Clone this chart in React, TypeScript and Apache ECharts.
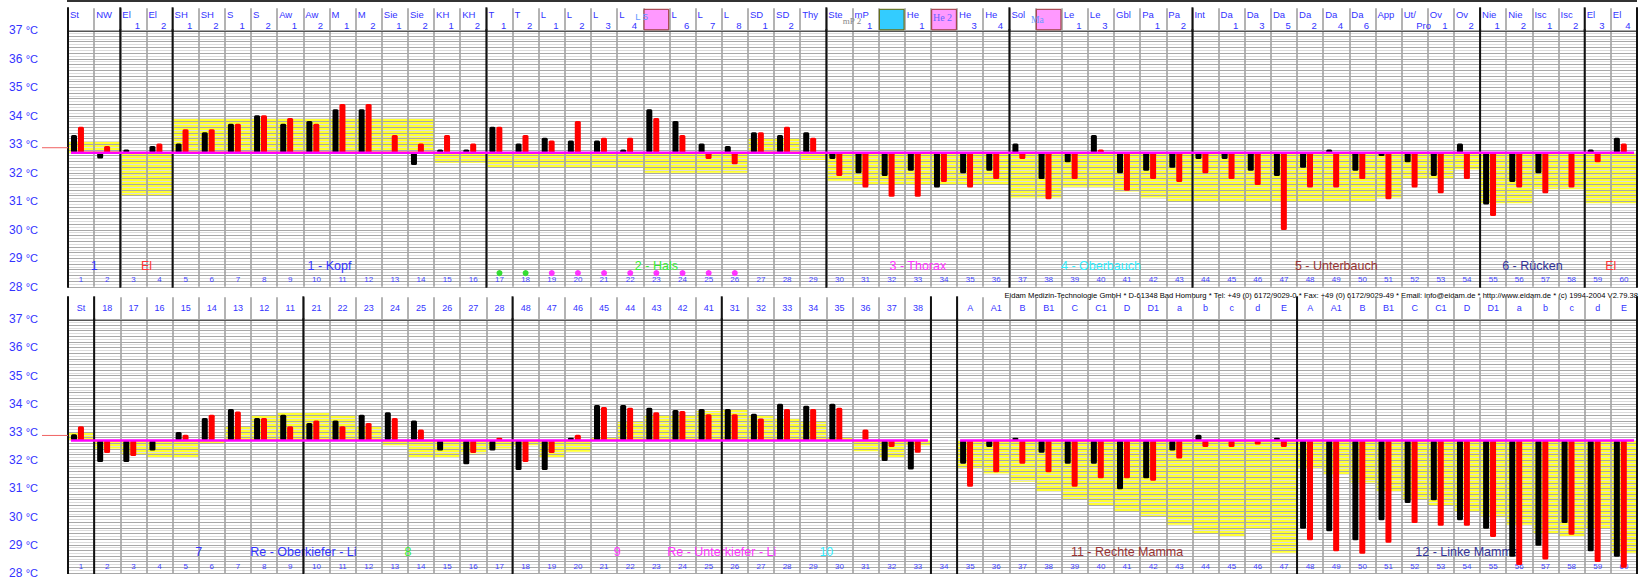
import React, { useEffect, useRef } from "react";
import * as echarts from "echarts";

// ---------------- data ----------------
const BASELINE = 32.7;
const REFERENCE = 32.88;
const Y_MIN = 28;
const Y_MAX = 37;
const SECTION_Y = 28.74;
const NUMBER_Y = 28.24;
const DOT_Y = 28.48;

const columnNumbers = ["1","2","3","4","5","6","7","8","9","10","11","12","13","14","15","16","17","18","19","20","21","22","23","24","25","26","27","28","29","30","31","32","33","34","35","36","37","38","39","40","41","42","43","44","45","46","47","48","49","50","51","52","53","54","55","56","57","58","59","60"];

const topHeadNames = ["St","NW","El","El","SH","SH","S","S","Aw","Aw","M","M","Sie","Sie","KH","KH","T","T","L","L","L","L","","L","L","L","SD","SD","Thy","Ste","mP","","He","","He","He","Sol","","Le","Le","Gbl","Pa","Pa","Int","Da","Da","Da","Da","Da","Da","App","Ut/","Ov","Ov","Nie","Nie","Isc","Isc","El","El"];
const topHeadNums = ["","","1","2","1","2","1","2","1","2","1","2","1","2","1","2","1","2","1","2","3","4","","6","7","8","1","2","","","1","","1","","3","4","","","1","3","","1","2","","1","3","5","2","4","6","","Pro","1","2","1","2","1","2","3","4"];

const topBlack = [33.33,32.5,32.82,32.94,33.03,33.42,33.72,34.02,33.72,33.82,34.23,34.23,32.7,32.27,32.82,32.82,33.62,33.03,33.23,33.13,33.13,32.82,34.23,33.82,33.03,32.94,33.42,33.33,33.42,32.48,31.98,31.89,32.07,31.48,31.98,32.07,33.03,31.78,32.37,33.33,31.98,32.07,32.18,32.48,32.48,32.07,31.89,32.18,32.82,32.07,32.59,32.37,31.89,33.03,30.89,31.68,31.98,32.7,32.82,33.23];
const topRed = [33.62,32.94,32.7,33.03,33.53,33.53,33.72,34.02,33.92,33.72,34.41,34.41,33.33,33.03,33.33,33.03,33.62,33.33,33.13,33.82,33.23,33.23,33.92,33.33,32.48,32.3,33.42,33.62,33.23,31.89,31.48,31.16,31.16,31.68,31.48,31.78,32.48,31.07,31.78,32.82,31.37,31.78,31.68,31.98,31.78,31.57,29.99,31.48,31.48,31.78,31.07,31.48,31.28,31.78,30.48,31.48,31.28,31.48,32.37,33.03];
const topYellow = [33.1,33.1,31.22,31.22,33.89,33.89,33.89,33.89,33.89,33.89,33.89,33.89,33.89,33.89,32.35,32.35,32.2,32.2,32.2,32.2,32.2,32.2,32.0,32.0,32.0,32.0,33.21,33.21,32.45,31.72,31.6,31.6,31.6,31.6,31.6,31.6,31.13,31.13,31.51,31.51,31.34,31.13,31.01,31.01,31.01,31.01,31.01,31.01,31.01,31.01,31.13,31.81,31.81,32.12,30.93,30.93,31.42,31.42,30.93,30.93];

const topSeparators = [0, 2, 4, 16, 29, 36, 43, 54, 58, 60];
const topBaselineFrom = [1];
const topBaselineTo = [60];
const topSectionText = ["1","El","1 - Kopf","2 - Hals","3 - Thorax","4 - Oberbauch","5 - Unterbauch","6 - Rücken","El"];
const topSectionFrom = [1,3,5,17,30,37,44,55,59];
const topSectionTo = [2,4,16,29,36,43,54,58,60];
const topSectionColor = ["#3333ff","#ff3333","#3333ff","#33ee33","#ff33ff","#33eeff","#993333","#333399","#ff3333"];
const topDotCols = [17,18,19,20,21,22,23,24,25,26];
const topDotColors = ["#33dd33","#33dd33","#ff33ff","#ff33ff","#ff33ff","#ff33ff","#ff33ff","#ff33ff","#ff33ff","#ff33ff"];
const topBoxCols = [23,32,34,38];
const topBoxFill = ["#ff99ff","#33ccff","#ff99ff","#ff99ff"];
const topBoxStroke = ["#993333","#666600","#993333","#993333"];
const topOverlayText = ["L 5","mP 2","He 2","Ma"];
const topOverlayCols = [23,30,34,38];

const bottomHead = ["St","18","17","16","15","14","13","12","11","21","22","23","24","25","26","27","28","48","47","46","45","44","43","42","41","31","32","33","34","35","36","37","38","","A","A1","B","B1","C","C1","D","D1","a","b","c","d","E","A","A1","B","B1","C","C1","D","D1","a","b","c","d","E"];
const bottomBlack = [32.92,31.94,31.94,32.35,33.0,33.5,33.82,33.5,33.61,33.32,33.41,33.61,33.7,33.41,32.35,31.86,32.35,31.65,31.65,32.8,33.96,33.96,33.86,33.78,33.82,33.82,33.65,34.0,33.93,34.0,32.7,31.97,31.67,null,31.88,32.47,32.8,32.27,31.88,31.88,30.97,31.36,32.35,32.9,32.7,32.7,32.8,29.57,29.48,29.16,29.87,30.48,30.58,29.87,29.57,28.58,28.97,29.77,28.77,28.58];
const bottomRed = [33.21,32.26,32.15,32.7,32.9,33.61,33.73,33.5,33.21,33.41,33.21,33.32,33.5,33.09,32.7,32.26,32.8,31.94,32.26,32.9,33.89,33.86,33.7,33.75,33.63,33.63,33.48,33.82,33.82,33.86,33.09,32.47,32.27,null,31.06,31.57,31.88,31.57,31.06,31.36,31.36,31.27,32.06,32.47,32.47,32.56,32.47,29.16,28.77,28.68,29.07,29.77,29.68,29.68,29.28,28.28,28.48,29.36,28.39,28.19];
const bottomYellow = [33.0,32.41,32.2,32.1,32.1,32.59,33.18,33.59,33.7,33.7,33.59,33.2,32.53,32.1,32.1,32.24,32.41,32.53,32.1,32.3,32.8,33.37,33.6,33.6,33.75,33.8,33.6,33.5,33.37,32.8,32.32,32.1,32.53,null,31.73,31.53,31.24,30.91,30.62,30.39,30.18,30.0,29.71,29.42,29.3,29.6,28.72,31.73,31.5,31.21,30.91,30.59,30.39,30.18,29.98,29.71,29.42,29.3,29.6,28.72];

const bottomSeparators = [0, 1, 9, 17, 25, 33, 34, 47, 60];
const bottomBaselineFrom = [1, 35];
const bottomBaselineTo = [33, 60];
const bottomSectionText = ["7","Re - Oberkiefer - Li","8","9","Re - Unterkiefer - Li","10","11 - Rechte Mamma","12 - Linke Mamma"];
const bottomSectionFrom = [2,2,10,18,18,26,35,48];
const bottomSectionTo = [9,17,17,25,33,33,47,60];
const bottomSectionColor = ["#3333ff","#3333ff","#33ee33","#ff33ff","#ff33ff","#33eeff","#993333","#333399"];

const footerText = "Eidam Medizin-Technologie GmbH * D-61348 Bad Homburg * Tel: +49 (0) 6172/9029-0 * Fax: +49 (0) 6172/9029-49 * Email: info@eidam.de * http://www.eidam.de * (c) 1994-2004 V2.79.38";

// ---------------- styling ----------------
const FONT = "'Liberation Sans', Arial, Helvetica, sans-serif";
const SERIF = "'Liberation Serif', 'Times New Roman', serif";
const BLUE = "#3333ff";
const overlayStyle = [
  { dx: -8, dy: 8.4, color: "#6699ff", font: FONT, size: 9.5 },
  { dx: 16.5, dy: 12.4, color: "#888888", font: SERIF, size: 9 },
  { dx: 2, dy: 9, color: "#6666ff", font: SERIF, size: 10 },
  { dx: -4.6, dy: 11.7, color: "#6699ff", font: SERIF, size: 9.5 },
];

function cell(api: any, i: number, v: number) {
  const p = api.coord([i, v]);
  const w = api.size([1, 0])[0];
  return { x: p[0] - w / 2, cx: p[0], y: p[1], w };
}
const empty = { type: "group", children: [] };

function buildOption() {
  const L = 68;
  const W = 1569;
  const grid = [
    { left: L, top: 8.3, width: W, height: 22 },
    { left: L, top: 30.3, width: W, height: 256.5 },
    { left: L, top: 297.3, width: W, height: 22 },
    { left: L, top: 319.3, width: W, height: 256.5 },
  ];
  const vLines = { show: true, interval: 0, lineStyle: { color: "#9a9a9a", width: 1.5 } };
  const xAxis = [0, 1, 2, 3].map((g) => ({
    type: "category",
    gridIndex: g,
    data: columnNumbers,
    position: g % 2 === 0 ? "top" : "bottom",
    boundaryGap: true,
    axisLine: { show: g % 2 === 0, lineStyle: { color: "#555", width: 2 } },
    axisTick: { show: false },
    axisLabel: { show: false },
    splitLine: vLines,
    z: 1,
  }));
  const yAxis: any[] = [0, 1, 2, 3].map((g) =>
    g % 2 === 0
      ? { type: "value", gridIndex: g, min: 0, max: 1, show: false }
      : {
          type: "value",
          gridIndex: g,
          min: Y_MIN,
          max: Y_MAX,
          interval: 1,
          axisLine: { show: false },
          axisTick: { show: false },
          axisLabel: {
            margin: 30,
            color: BLUE,
            fontSize: 12,
            fontFamily: FONT,
            formatter: (v: number) => `${v} {u|°C}`,
            rich: { u: { fontSize: 11, color: BLUE, fontFamily: FONT } },
          },
          splitLine: { show: true, lineStyle: { color: "#333", width: 1 } },
          minorTick: { show: false, splitNumber: 10 },
          minorSplitLine: { show: true, lineStyle: { color: "#dcdcdc", width: 1 } },
          z: 1,
        }
  );
  [1, 3].forEach((g) => {
    yAxis.push({
      type: "value",
      gridIndex: g,
      min: Y_MIN,
      max: Y_MAX,
      interval: 0.2,
      position: "right",
      axisLine: { show: false },
      axisTick: { show: false },
      axisLabel: { show: false },
      splitLine: { show: true, lineStyle: { color: "#a8a8a8", width: 1 } },
      z: 1.5,
    });
  });

  const series: any[] = [];
  const panel = (
    hg: number,
    pg: number,
    black: (number | null)[],
    red: (number | null)[],
    yellow: (number | null)[],
    seps: number[],
    bFrom: number[],
    bTo: number[],
    secText: string[],
    secFrom: number[],
    secTo: number[],
    secColor: string[]
  ) => {
    series.push({
      type: "custom", xAxisIndex: pg, yAxisIndex: pg, z: 0, silent: true,
      data: yellow.map((v, i) => [i, v == null ? BASELINE : v]),
      renderItem: (params: any, api: any) => {
        if (yellow[params.dataIndex] == null) return empty;
        const a = cell(api, api.value(0), BASELINE);
        const b = cell(api, api.value(0), api.value(1));
        return { type: "rect", shape: { x: a.x, y: Math.min(a.y, b.y), width: a.w, height: Math.abs(a.y - b.y) }, style: { fill: "#ffff33" } };
      },
    });
    series.push({
      type: "custom", xAxisIndex: pg, yAxisIndex: pg, z: 2, silent: true,
      data: secText.map((t, k) => [secFrom[k] - 1, SECTION_Y, secTo[k] - 1]),
      renderItem: (params: any, api: any) => {
        const k = params.dataIndex;
        const a = cell(api, api.value(0), api.value(1));
        const b = cell(api, api.value(2), api.value(1));
        return { type: "text", x: (a.x + b.x + b.w) / 2, y: a.y, style: { text: secText[k], fill: secColor[k], fontSize: 12.5, fontFamily: FONT, align: "center", verticalAlign: "middle" } };
      },
    });
    series.push({
      type: "custom", xAxisIndex: pg, yAxisIndex: pg, z: 2, silent: true,
      data: columnNumbers.map((n, i) => [i, NUMBER_Y]),
      renderItem: (params: any, api: any) => {
        const a = cell(api, api.value(0), api.value(1));
        return { type: "text", x: a.cx, y: a.y, style: { text: columnNumbers[params.dataIndex], fill: "#4444ff", fontSize: 8, fontFamily: FONT, align: "center", verticalAlign: "middle" } };
      },
    });
    [[pg, Y_MAX, Y_MIN], [hg, 1, 0]].forEach(([g, yt, yb]) => {
      series.push({
        type: "custom", xAxisIndex: g, yAxisIndex: g, z: 3, silent: true,
        data: seps.map((s) => [0, yt, s]),
        renderItem: (params: any, api: any) => {
          const a = cell(api, 0, yt);
          const b = cell(api, 0, yb);
          const x = a.x + api.value(2) * a.w;
          return { type: "line", shape: { x1: x, y1: a.y - 1, x2: x, y2: b.y + 1 }, style: { stroke: "#111", lineWidth: 2 } };
        },
      });
    });
    const bars = (vals: (number | null)[], off: number, color: string) => ({
      type: "custom", xAxisIndex: pg, yAxisIndex: pg, z: 4, silent: true,
      data: vals.map((v, i) => [i, v == null ? BASELINE : v]),
      renderItem: (params: any, api: any) => {
        const a = cell(api, api.value(0), BASELINE);
        const b = cell(api, api.value(0), api.value(1));
        const h = Math.abs(a.y - b.y);
        if (h < 0.5) return empty;
        return { type: "rect", shape: { x: a.x + a.w * off, y: Math.min(a.y, b.y), width: a.w * 0.23, height: h, r: 1.5 }, style: { fill: color } };
      },
    });
    series.push(bars(black, 0.115, "#000000"));
    series.push(bars(red, 0.38, "#ff0000"));
    series.push({
      type: "custom", xAxisIndex: pg, yAxisIndex: pg, z: 5, silent: true,
      data: bFrom.map((f, k) => [f - 1, BASELINE, bTo[k] - 1]),
      renderItem: (params: any, api: any) => {
        const a = cell(api, api.value(0), api.value(1));
        const b = cell(api, api.value(2), api.value(1));
        return { type: "line", shape: { x1: a.x + 3, y1: a.y, x2: b.x + b.w - 3, y2: a.y }, style: { stroke: "#ff00ff", lineWidth: 2.5 } };
      },
    });
    series.push({
      type: "custom", xAxisIndex: pg, yAxisIndex: pg, z: 5, silent: true, clip: false,
      data: [[0, REFERENCE]],
      renderItem: (params: any, api: any) => {
        const a = cell(api, api.value(0), api.value(1));
        return { type: "line", shape: { x1: a.x - 26, y1: a.y, x2: a.x, y2: a.y }, style: { stroke: "#f06262", lineWidth: 1 } };
      },
    });
  };

  panel(0, 1, topBlack, topRed, topYellow, topSeparators, topBaselineFrom, topBaselineTo, topSectionText, topSectionFrom, topSectionTo, topSectionColor);
  panel(2, 3, bottomBlack, bottomRed, bottomYellow, bottomSeparators, bottomBaselineFrom, bottomBaselineTo, bottomSectionText, bottomSectionFrom, bottomSectionTo, bottomSectionColor);

  series.push({
    type: "custom", xAxisIndex: 1, yAxisIndex: 1, z: 4, silent: true,
    data: topDotCols.map((c) => [c - 1, DOT_Y]),
    renderItem: (params: any, api: any) => {
      const a = cell(api, api.value(0), api.value(1));
      return { type: "circle", shape: { cx: a.cx, cy: a.y, r: 3 }, style: { fill: topDotColors[params.dataIndex] } };
    },
  });

  series.push({
    type: "custom", xAxisIndex: 0, yAxisIndex: 0, z: 2, silent: true,
    data: topHeadNames.map((n, i) => [i, 1]),
    renderItem: (params: any, api: any) => {
      const i = params.dataIndex;
      const t = cell(api, api.value(0), 1);
      const b = cell(api, api.value(0), 0);
      const children: any[] = [];
      const bi = topBoxCols.indexOf(i + 1);
      if (bi >= 0) {
        children.push({ type: "rect", shape: { x: t.x + 0.75, y: t.y + 1, width: t.w - 1.5, height: b.y - t.y - 1.5 }, style: { fill: topBoxFill[bi], stroke: topBoxStroke[bi], lineWidth: 1 } });
      }
      if (topHeadNames[i]) {
        children.push({ type: "text", x: t.x + 2, y: t.y + 6.5, style: { text: topHeadNames[i], fill: BLUE, fontSize: 9.5, fontFamily: FONT, align: "left", verticalAlign: "middle" } });
      }
      if (topHeadNums[i]) {
        children.push({ type: "text", x: t.x + 14.5, y: t.y + 17, style: { text: topHeadNums[i], fill: BLUE, fontSize: 9.5, fontFamily: FONT, align: "left", verticalAlign: "middle" } });
      }
      const oi = topOverlayCols.indexOf(i + 1);
      if (oi >= 0) {
        const s = overlayStyle[oi];
        children.push({ type: "text", x: t.x + s.dx, y: t.y + s.dy, style: { text: topOverlayText[oi], fill: s.color, fontSize: s.size, fontFamily: s.font, align: "left", verticalAlign: "middle" } });
      }
      return { type: "group", children };
    },
  });

  series.push({
    type: "custom", xAxisIndex: 2, yAxisIndex: 2, z: 2, silent: true,
    data: bottomHead.map((n, i) => [i, 0.5]),
    renderItem: (params: any, api: any) => {
      const a = cell(api, api.value(0), api.value(1));
      return { type: "text", x: a.cx, y: a.y, style: { text: bottomHead[params.dataIndex], fill: BLUE, fontSize: 9, fontFamily: FONT, align: "center", verticalAlign: "middle" } };
    },
  });

  return {
    animation: false,
    backgroundColor: "#ffffff",
    grid,
    xAxis,
    yAxis,
    series,
    graphic: [
      { type: "rect", shape: { x: 67, y: 0, width: 1570, height: 2 }, style: { fill: "#333333" }, silent: true },
      { type: "text", x: 1638, y: 295, style: { text: footerText, fill: "#000", fontSize: 7.6, fontFamily: FONT, align: "right", verticalAlign: "middle" }, silent: true },
    ],
  };
}

export default function App() {
  const ref = useRef<HTMLDivElement>(null);
  useEffect(() => {
    if (!ref.current) return;
    const chart = echarts.init(ref.current, undefined, { renderer: "svg" });
    chart.setOption(buildOption() as any);
    return () => chart.dispose();
  }, []);
  return (
    <div
      ref={ref}
      style={{ position: "absolute", left: 0, top: 0, width: 1641, height: 579, background: "#fff" }}
    />
  );
}
